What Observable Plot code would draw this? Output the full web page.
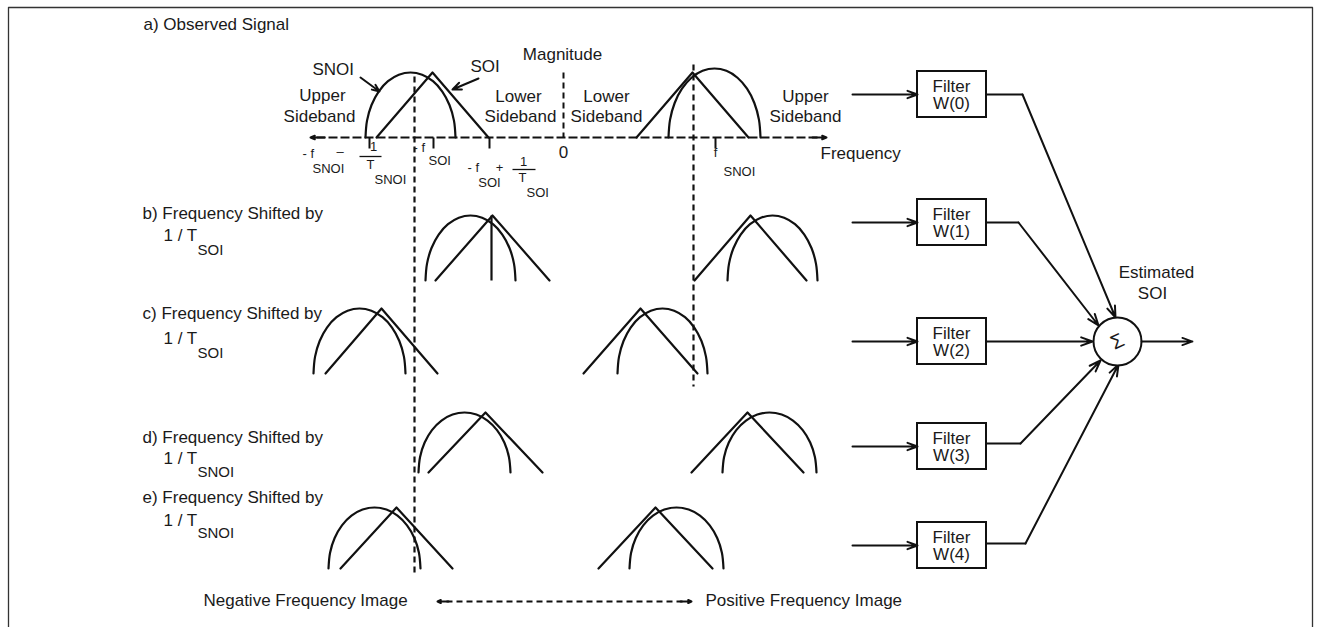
<!DOCTYPE html>
<html><head><meta charset="utf-8">
<script src="https://cdn.jsdelivr.net/npm/d3@7"></script>
<script src="https://cdn.jsdelivr.net/npm/@observablehq/plot@0.6"></script>
<style>body{margin:0;background:#fff}#chart svg{display:block}</style>
</head><body><div id="chart"></div>
<script>
// ---- spectrum rows: baseline and peak level (diagram units = px) ----
const rowNames = ["a", "b", "c", "d", "e"];
const rowBase  = [137, 280, 373, 472, 568];
const rowTop   = [72, 215, 308, 412, 507];

// SOI triangles (row, centre, half width)
const soiRow    = ["a", "a", "b", "b", "c", "c", "d", "d", "e", "e"];
const soiCenter = [432, 692, 492, 750, 381, 640, 485, 747, 396, 655];
const soiHalf   = [56, 56, 57, 56, 56, 57, 57, 56, 56, 57];

// SNOI half-ellipses (row, centre, half width)
const snoiRow    = ["a", "a", "b", "b", "c", "c", "d", "d", "e", "e"];
const snoiCenter = [410, 714, 470, 772, 359, 662, 464, 769, 374, 676];
const snoiHalf   = [45, 46, 45, 45, 46, 45, 46, 47, 46, 47];
const snoiTopAdj = [0, -4, 0, 0, 0, 0, 0, 0, 0, 0];

// unit half-ellipse outline (u across, v up)
const arcU = [-1, -0.966, -0.866, -0.707, -0.5, -0.259, 0, 0.259, 0.5, 0.707, 0.866, 0.966, 1];
const arcV = [0, 0.259, 0.5, 0.707, 0.866, 0.966, 1, 0.966, 0.866, 0.707, 0.5, 0.259, 0];

// frequency axis tick positions
const tickX = [369, 433, 489, 715];

// filters
const filterNames = ["W(0)", "W(1)", "W(2)", "W(3)", "W(4)"];
const filterY     = [94, 222, 341, 446, 545];
const filterOutY  = [94, 222, 341, 443, 543];
const filterBendX = [1022, 1018, 986, 1020, 1025];
const sumEntryX   = [1115, 1098, 1092, 1100, 1118];
const sumEntryY   = [317, 325, 341, 360, 364];

// labels
const rowLabelText = ["b) Frequency Shifted by", "c) Frequency Shifted by", "d) Frequency Shifted by", "e) Frequency Shifted by"];
const rowLabelSub  = ["SOI", "SOI", "SNOI", "SNOI"];
const rowLabelY    = [213, 313, 437, 497];
const rowLabel2Y   = [235, 338, 458, 520];
const rowLabelSubY = [250, 353, 472, 533];

const big = [
  ["a) Observed Signal", 143, 24, "start"],
  ["SNOI", 312, 69, "start"],
  ["SOI", 470, 66, "start"],
  ["Magnitude", 562, 54, "middle"],
  ["Upper", 322, 95, "middle"], ["Sideband", 319, 116, "middle"],
  ["Lower", 518, 96, "middle"], ["Sideband", 520, 116, "middle"],
  ["Lower", 606, 96, "middle"], ["Sideband", 606, 116, "middle"],
  ["Upper", 805, 96, "middle"], ["Sideband", 805, 116, "middle"],
  ["0", 563, 152, "middle"],
  ["Frequency", 820, 153, "start"],
  ["Negative Frequency Image", 203, 600, "start"],
  ["Positive Frequency Image", 705, 600, "start"],
  ["Estimated", 1156, 272, "middle"],
  ["SOI", 1152, 293, "middle"]
];
const small = [
  ["- f", 302, 153, "start"], ["SNOI", 312, 168, "start"], ["–", 336, 151, "start"],
  ["1", 373, 146, "middle"], ["T", 370, 164, "middle"], ["SNOI", 374, 179, "start"],
  ["- f", 413, 147, "start"], ["SOI", 428, 160, "start"],
  ["- f", 467, 167, "start"], ["SOI", 489, 182, "middle"], ["+", 499, 167, "middle"],
  ["1", 523, 161, "middle"], ["T", 522, 177, "middle"], ["SOI", 526, 192, "start"],
  ["f", 715, 152, "middle"], ["SNOI", 723, 171, "start"]
];

// ---- build mark tables ----
const rowIdx = r => rowNames.indexOf(r);
const triPts = soiCenter.flatMap((c, i) => {
  const k = rowIdx(soiRow[i]), b = rowBase[k], t = rowTop[k], h = soiHalf[i];
  return [{x: c - h, y: b, id: i}, {x: c, y: t, id: i}, {x: c + h, y: b, id: i}];
});
const arcPts = snoiCenter.flatMap((c, i) => {
  const k = rowIdx(snoiRow[i]), b = rowBase[k], t = rowTop[k] + snoiTopAdj[i], h = snoiHalf[i];
  return arcU.map((u, j) => ({x: c + h * u, y: b - (b - t) * arcV[j], id: i}));
});
const toObj = ([text, x, y, a]) => ({text, x, y, a});
const bigStart = big.map(toObj).filter(d => d.a === "start");
const bigMid = big.map(toObj).filter(d => d.a === "middle");
const smallStart = small.map(toObj).filter(d => d.a === "start");
const smallMid = small.map(toObj).filter(d => d.a === "middle");
const rowT = rowLabelText.flatMap((t, i) => [
  {text: t, x: 142, y: rowLabelY[i], s: 17},
  {text: "1 / T", x: 163, y: rowLabel2Y[i], s: 17},
  {text: rowLabelSub[i], x: 197, y: rowLabelSubY[i], s: 15}
]);
const boxes = filterNames.map((n, i) => ({n, y: filterY[i], x1: 917, x2: 986, y1: filterY[i] - 23, y2: filterY[i] + 23}));
const outPaths = filterNames.flatMap((n, i) => [
  {x: 986, y: filterOutY[i], id: i}, {x: filterBendX[i], y: filterOutY[i], id: i}
]);
const outArrows = filterNames.map((n, i) => ({x1: filterBendX[i], y1: filterOutY[i], x2: sumEntryX[i], y2: sumEntryY[i]}));
const inArrows = filterNames.map((n, i) => ({x1: 852, y1: filterY[i], x2: 917, y2: filterY[i]}));

const font = "Liberation Sans, Arial, Helvetica, sans-serif";
const ink = "#111";
const txt = "#1a1a1a";

const chart = Plot.plot({
  width: 1317, height: 627, margin: 0,
  x: {domain: [0, 1317], axis: null},
  y: {domain: [0, 627], reverse: true, axis: null},
  style: {fontFamily: font, background: "#fff"},
  marks: [
    // frame
    Plot.line([{x: 8, y: 627}, {x: 8, y: 7}, {x: 1312, y: 7}, {x: 1312, y: 627}], {x: "x", y: "y", stroke: "#333", strokeWidth: 1.3}),
    // frequency axis (dashed) with arrowheads
    Plot.link([{x1: 316, x2: 820, y: 137}], {x1: "x1", x2: "x2", y1: "y", y2: "y", stroke: ink, strokeWidth: 1.8, strokeDasharray: "9,3"}),
    Plot.arrow([{x1: 324, x2: 310, y: 137}, {x1: 812, x2: 826, y: 137}], {x1: "x1", x2: "x2", y1: "y", y2: "y", stroke: ink, strokeWidth: 2, headLength: 9, headAngle: 45}),
    // ticks
    Plot.link(tickX, {x1: d => d, x2: d => d, y1: 137, y2: 148, stroke: ink, strokeWidth: 2}),
    // fraction bars
    Plot.link([{x1: 359, x2: 381, y: 156}, {x1: 512, x2: 535, y: 169}], {x1: "x1", x2: "x2", y1: "y", y2: "y", stroke: ink, strokeWidth: 1.3}),
    // magnitude dashed axis
    Plot.link([{x: 563, y1: 72, y2: 137}], {x1: "x", x2: "x", y1: "y1", y2: "y2", stroke: ink, strokeWidth: 2, strokeDasharray: "6,4"}),
    // vertical dashed image lines
    Plot.link([{x: 414, y1: 76, y2: 576}, {x: 693, y1: 64, y2: 386}], {x1: "x", x2: "x", y1: "y1", y2: "y2", stroke: ink, strokeWidth: 2.2, strokeDasharray: "6,4"}),
    // spectra
    Plot.line(triPts, {x: "x", y: "y", z: "id", stroke: ink, strokeWidth: 2.2, curve: "linear"}),
    Plot.line(arcPts, {x: "x", y: "y", z: "id", stroke: ink, strokeWidth: 2.2, curve: "catmull-rom"}),
    Plot.link([{x: 491, y1: 215, y2: 280}], {x1: "x", x2: "x", y1: "y1", y2: "y2", stroke: ink, strokeWidth: 2.2}),
    // pointer arrows
    Plot.arrow([{x1: 360, y1: 77, x2: 379, y2: 91}, {x1: 478, y1: 78, x2: 452, y2: 89}], {x1: "x1", y1: "y1", x2: "x2", y2: "y2", stroke: ink, strokeWidth: 2, headLength: 8, headAngle: 45}),
    // bottom double arrow
    Plot.link([{x1: 446, x2: 682, y: 601}], {x1: "x1", x2: "x2", y1: "y", y2: "y", stroke: ink, strokeWidth: 2, strokeDasharray: "6,4"}),
    Plot.arrow([{x1: 448, x2: 437, y: 601}, {x1: 680, x2: 691, y: 601}], {x1: "x1", x2: "x2", y1: "y", y2: "y", stroke: ink, strokeWidth: 2, headLength: 8, headAngle: 50}),
    // filters
    Plot.rect(boxes, {x1: "x1", x2: "x2", y1: "y1", y2: "y2", fill: "#fff", stroke: ink, strokeWidth: 2}),
    Plot.text(boxes, {x: 951, y: d => d.y - 8, text: () => "Filter", fontSize: 17, fill: txt}),
    Plot.text(boxes, {x: 951, y: d => d.y + 9, text: "n", fontSize: 17, fill: txt}),
    Plot.arrow(inArrows, {x1: "x1", y1: "y1", x2: "x2", y2: "y2", stroke: ink, strokeWidth: 2, headLength: 8, headAngle: 40}),
    Plot.line(outPaths, {x: "x", y: "y", z: "id", stroke: ink, strokeWidth: 1.8}),
    Plot.arrow(outArrows, {x1: "x1", y1: "y1", x2: "x2", y2: "y2", stroke: ink, strokeWidth: 2, headLength: 9, headAngle: 40}),
    // summing node
    Plot.dot([{x: 1117, y: 341}], {x: "x", y: "y", r: 24, stroke: ink, strokeWidth: 2, fill: "#fff"}),
    Plot.text([{x: 1117, y: 341}], {x: "x", y: "y", text: () => "Σ", fontSize: 20, fill: txt, rotate: -25}),
    Plot.arrow([{x1: 1141, x2: 1192, y: 341}], {x1: "x1", x2: "x2", y1: "y", y2: "y", stroke: ink, strokeWidth: 1.8, headLength: 9, headAngle: 40}),
    // texts
    Plot.text(bigStart, {x: "x", y: "y", text: "text", textAnchor: "start", fontSize: 17, fill: txt}),
    Plot.text(bigMid, {x: "x", y: "y", text: "text", textAnchor: "middle", fontSize: 17, fill: txt}),
    Plot.text(smallStart, {x: "x", y: "y", text: "text", textAnchor: "start", fontSize: 13, fill: txt}),
    Plot.text(smallMid, {x: "x", y: "y", text: "text", textAnchor: "middle", fontSize: 13, fill: txt}),
    Plot.text(rowT, {x: "x", y: "y", text: "text", textAnchor: "start", fontSize: "s", fill: txt})
  ]
});
document.getElementById("chart").append(chart);
</script>
</body></html>
